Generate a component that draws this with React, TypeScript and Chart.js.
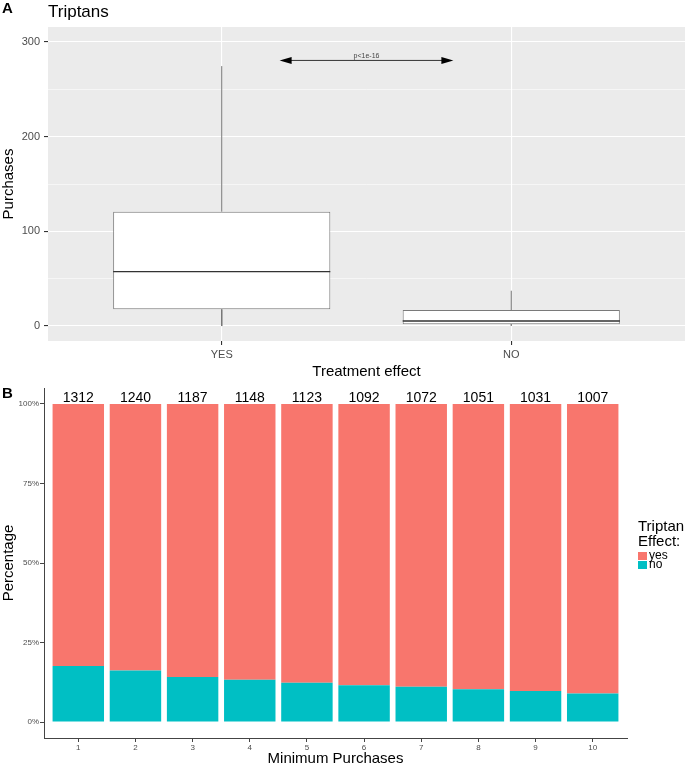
import React, { useEffect, useRef } from 'react';
import { Chart, registerables } from 'chart.js';

Chart.register(...registerables);

const FONT = '"Liberation Sans", Arial, Helvetica, sans-serif';

// ---------- Panel A: box plot ----------
const BOX_CATEGORIES = ['YES', 'NO'];
const BOX_MIN = [0, 0.5];
const BOX_Q1 = [17.6, 1.8];
const BOX_MEDIAN = [57.5, 5.3];
const BOX_Q3 = [120.7, 16.9];
const BOX_MAX = [274.5, 37.3];
const Y_TICKS_A = [0, 100, 200, 300];
const P_LABEL = 'p<1e-16';
const ARROW_X = [1.2, 1.8];
const ARROW_Y = 280.5;

// ---------- Panel B: stacked percentage bars ----------
const MIN_PURCHASES = ['1', '2', '3', '4', '5', '6', '7', '8', '9', '10'];
const COUNTS = [1312, 1240, 1187, 1148, 1123, 1092, 1072, 1051, 1031, 1007];
const PCT_NO = [17.6, 16.2, 14.2, 13.3, 12.4, 11.6, 11.1, 10.3, 9.8, 9.0];
const PCT_YES = [82.4, 83.8, 85.8, 86.7, 87.6, 88.4, 88.9, 89.7, 90.2, 91.0];
const Y_TICKS_B = [0, 25, 50, 75, 100];

const BOX_WIDTH = 0.75;
const RED = '#F8766D';
const TEAL = '#00BFC4';

function PanelA() {
  const ref = useRef<HTMLCanvasElement>(null);
  useEffect(() => {
    const whiskers: any[] = [];
    const medians: any[] = [];
    BOX_CATEGORIES.forEach((_, i) => {
      const x = i + 1;
      whiskers.push({ x, y: BOX_Q3[i] }, { x, y: BOX_MAX[i] }, { x, y: null });
      whiskers.push({ x, y: BOX_Q1[i] }, { x, y: BOX_MIN[i] }, { x, y: null });
      medians.push({ x: x - BOX_WIDTH / 2, y: BOX_MEDIAN[i] }, { x: x + BOX_WIDTH / 2, y: BOX_MEDIAN[i] }, { x, y: null });
    });

    const bgPlugin = {
      id: 'bgA',
      beforeDraw(chart: any) {
        const { ctx, chartArea: a } = chart;
        ctx.save();
        ctx.fillStyle = '#EBEBEB';
        ctx.fillRect(a.left, a.top, a.right - a.left, a.bottom - a.top);
        ctx.restore();
      },
    };
    const annoPlugin = {
      id: 'annoA',
      afterDatasetsDraw(chart: any) {
        const { ctx } = chart;
        const xs = chart.scales.x;
        const ys = chart.scales.y;
        const x1 = xs.getPixelForValue(ARROW_X[0]);
        const x2 = xs.getPixelForValue(ARROW_X[1]);
        const y = ys.getPixelForValue(ARROW_Y);
        ctx.save();
        ctx.strokeStyle = '#333';
        ctx.lineWidth = 1;
        ctx.beginPath();
        ctx.moveTo(x1 + 6, y);
        ctx.lineTo(x2 - 6, y);
        ctx.stroke();
        ctx.fillStyle = '#000';
        ctx.beginPath();
        ctx.moveTo(x1, y);
        ctx.lineTo(x1 + 12, y - 3.5);
        ctx.lineTo(x1 + 12, y + 3.5);
        ctx.closePath();
        ctx.fill();
        ctx.beginPath();
        ctx.moveTo(x2, y);
        ctx.lineTo(x2 - 12, y - 3.5);
        ctx.lineTo(x2 - 12, y + 3.5);
        ctx.closePath();
        ctx.fill();
        ctx.fillStyle = '#444';
        ctx.font = `7px ${FONT}`;
        ctx.textAlign = 'center';
        ctx.textBaseline = 'alphabetic';
        ctx.fillText(P_LABEL, (x1 + x2) / 2, y - 2);
        ctx.restore();
      },
      afterDraw(chart: any) {
        const { ctx } = chart;
        ctx.save();
        ctx.fillStyle = '#000';
        ctx.textBaseline = 'alphabetic';
        ctx.textAlign = 'left';
        ctx.font = `bold 15px ${FONT}`;
        ctx.fillText('A', 2, 13);
        ctx.font = `17px ${FONT}`;
        ctx.fillText('Triptans', 48, 17);
        ctx.restore();
      },
    };

    const chart = new Chart(ref.current as HTMLCanvasElement, {
      type: 'bar',
      data: {
        datasets: [
          {
            type: 'line',
            label: 'median',
            data: medians,
            borderColor: '#333',
            borderWidth: 1.4,
            pointRadius: 0,
            spanGaps: false,
            order: 0,
          } as any,
          {
            type: 'line',
            label: 'whiskers',
            data: whiskers,
            borderColor: '#777',
            borderWidth: 1,
            pointRadius: 0,
            spanGaps: false,
            order: 1,
          } as any,
          {
            type: 'bar',
            label: 'box',
            data: BOX_CATEGORIES.map((_, i) => ({ x: i + 1, y: [BOX_Q1[i], BOX_Q3[i]] })),
            backgroundColor: '#FFFFFF',
            borderColor: '#7a7a7a',
            borderWidth: 1,
            borderSkipped: false,
            barPercentage: BOX_WIDTH,
            categoryPercentage: 1,
            order: 2,
          } as any,
        ],
      },
      options: {
        responsive: false,
        animation: false,
        devicePixelRatio: 1,
        layout: { padding: { top: 27, right: 0, left: 0, bottom: 0 } },
        plugins: { legend: { display: false }, tooltip: { enabled: false } },
        scales: {
          x: {
            type: 'linear',
            offset: false,
            min: 0.4,
            max: 2.6,
            afterFit: (s: any) => { s.height = 37; },
            border: { display: false },
            grid: { offset: false, color: '#FFFFFF', lineWidth: 1.1, tickColor: '#333', tickLength: 4 },
            ticks: {
              stepSize: 1,
              includeBounds: false,
              autoSkip: false,
              maxRotation: 0,
              padding: 3,
              color: '#4D4D4D',
              font: { family: FONT, size: 11 },
              callback: (v: any) => BOX_CATEGORIES[Number(v) - 1] ?? '',
            },
            title: {
              display: true,
              text: 'Treatment effect',
              color: '#000',
              font: { family: FONT, size: 15 },
              padding: { top: 0, bottom: -3 },
            },
          },
          y: {
            type: 'linear',
            min: -15.8,
            max: 315.8,
            afterFit: (s: any) => { s.width = 48; },
            border: { display: false },
            grid: {
              color: '#FFFFFF',
              lineWidth: (c: any) => (Y_TICKS_A.includes(c.tick?.value) ? 1.1 : 0.55),
              tickColor: (c: any) => (Y_TICKS_A.includes(c.tick?.value) ? '#333' : 'rgba(0,0,0,0)'),
              tickLength: 4,
            },
            ticks: {
              stepSize: 50,
              includeBounds: false,
              autoSkip: false,
              padding: 4,
              color: '#4D4D4D',
              font: { family: FONT, size: 11 },
              callback: (v: any) => (Y_TICKS_A.includes(Number(v)) ? String(v) : ''),
            },
            title: {
              display: true,
              text: 'Purchases',
              color: '#000',
              font: { family: FONT, size: 15 },
              padding: { top: 0, bottom: 0 },
            },
          },
        },
      } as any,
      plugins: [bgPlugin, annoPlugin],
    });
    return () => chart.destroy();
  }, []);
  return <canvas ref={ref} width={685} height={378} style={{ display: 'block', width: 685, height: 378 }} />;
}

function PanelB() {
  const ref = useRef<HTMLCanvasElement>(null);
  useEffect(() => {
    const labelPlugin = {
      id: 'labelsB',
      afterDatasetsDraw(chart: any) {
        const { ctx } = chart;
        const xs = chart.scales.x;
        const ys = chart.scales.y;
        ctx.save();
        ctx.fillStyle = '#000';
        ctx.font = `14px ${FONT}`;
        ctx.textAlign = 'center';
        ctx.textBaseline = 'alphabetic';
        COUNTS.forEach((c, i) => {
          ctx.fillText(String(c), xs.getPixelForValue(i + 1), ys.getPixelForValue(100) - 2);
        });
        ctx.restore();
      },
      afterDraw(chart: any) {
        const { ctx } = chart;
        ctx.save();
        ctx.fillStyle = '#000';
        ctx.textAlign = 'left';
        ctx.textBaseline = 'alphabetic';
        ctx.font = `bold 15px ${FONT}`;
        ctx.fillText('B', 2, 20);
        // legend
        const lx = 638;
        ctx.textBaseline = 'middle';
        ctx.font = `15px ${FONT}`;
        ctx.fillText('Triptan', lx, 149);
        ctx.fillText('Effect:', lx, 164);
        const ds = chart.data.datasets.slice().reverse();
        ds.forEach((d: any, k: number) => {
          const y = 174 + k * 9;
          ctx.fillStyle = d.backgroundColor;
          ctx.fillRect(lx, y, 9, 8);
          ctx.fillStyle = '#000';
          ctx.font = `12px ${FONT}`;
          ctx.fillText(d.label, lx + 11, y + 4);
        });
        ctx.restore();
      },
    };

    const chart = new Chart(ref.current as HTMLCanvasElement, {
      type: 'bar',
      data: {
        datasets: [
          {
            label: 'no',
            data: PCT_NO.map((v, i) => ({ x: i + 1, y: v })),
            backgroundColor: TEAL,
            borderWidth: 0,
            barPercentage: 0.9,
            categoryPercentage: 1,
          },
          {
            label: 'yes',
            data: PCT_YES.map((v, i) => ({ x: i + 1, y: v })),
            backgroundColor: RED,
            borderWidth: 0,
            barPercentage: 0.9,
            categoryPercentage: 1,
          },
        ],
      },
      options: {
        responsive: false,
        animation: false,
        devicePixelRatio: 1,
        layout: { padding: { top: 10, right: 58, left: 0, bottom: 0 } },
        plugins: { legend: { display: false }, tooltip: { enabled: false } },
        scales: {
          x: {
            type: 'linear',
            stacked: true,
            offset: false,
            min: 0.4,
            max: 10.6,
            afterFit: (s: any) => { s.height = 28; },
            border: { display: true, color: '#444', width: 1 },
            grid: { offset: false, drawOnChartArea: false, color: '#444', tickColor: '#444', tickLength: 4 },
            ticks: {
              stepSize: 1,
              includeBounds: false,
              autoSkip: false,
              maxRotation: 0,
              padding: 1,
              color: '#4D4D4D',
              font: { family: FONT, size: 8 },
              callback: (v: any) => MIN_PURCHASES[Number(v) - 1] ?? '',
            },
            title: {
              display: true,
              text: 'Minimum Purchases',
              color: '#000',
              font: { family: FONT, size: 15 },
              padding: { top: 0, bottom: -2 },
            },
          },
          y: {
            type: 'linear',
            stacked: true,
            min: -5,
            max: 105,
            afterFit: (s: any) => { s.width = 44; },
            border: { display: true, color: '#444', width: 1 },
            grid: { drawOnChartArea: false, color: '#444', tickColor: '#444', tickLength: 4 },
            ticks: {
              stepSize: 25,
              includeBounds: false,
              autoSkip: false,
              padding: 1,
              color: '#4D4D4D',
              font: { family: FONT, size: 8 },
              callback: (v: any) => (Y_TICKS_B.includes(Number(v)) ? `${v}%` : ''),
            },
            title: {
              display: true,
              text: 'Percentage',
              color: '#000',
              font: { family: FONT, size: 15 },
              padding: { top: 0, bottom: 0 },
            },
          },
        },
      } as any,
      plugins: [labelPlugin],
    });
    return () => chart.destroy();
  }, []);
  return <canvas ref={ref} width={685} height={388} style={{ display: 'block', width: 685, height: 388 }} />;
}

export default function App() {
  return (
    <div style={{ position: 'absolute', top: 0, left: 0, width: 685, height: 766, background: '#fff' }}>
      <PanelA />
      <PanelB />
    </div>
  );
}
